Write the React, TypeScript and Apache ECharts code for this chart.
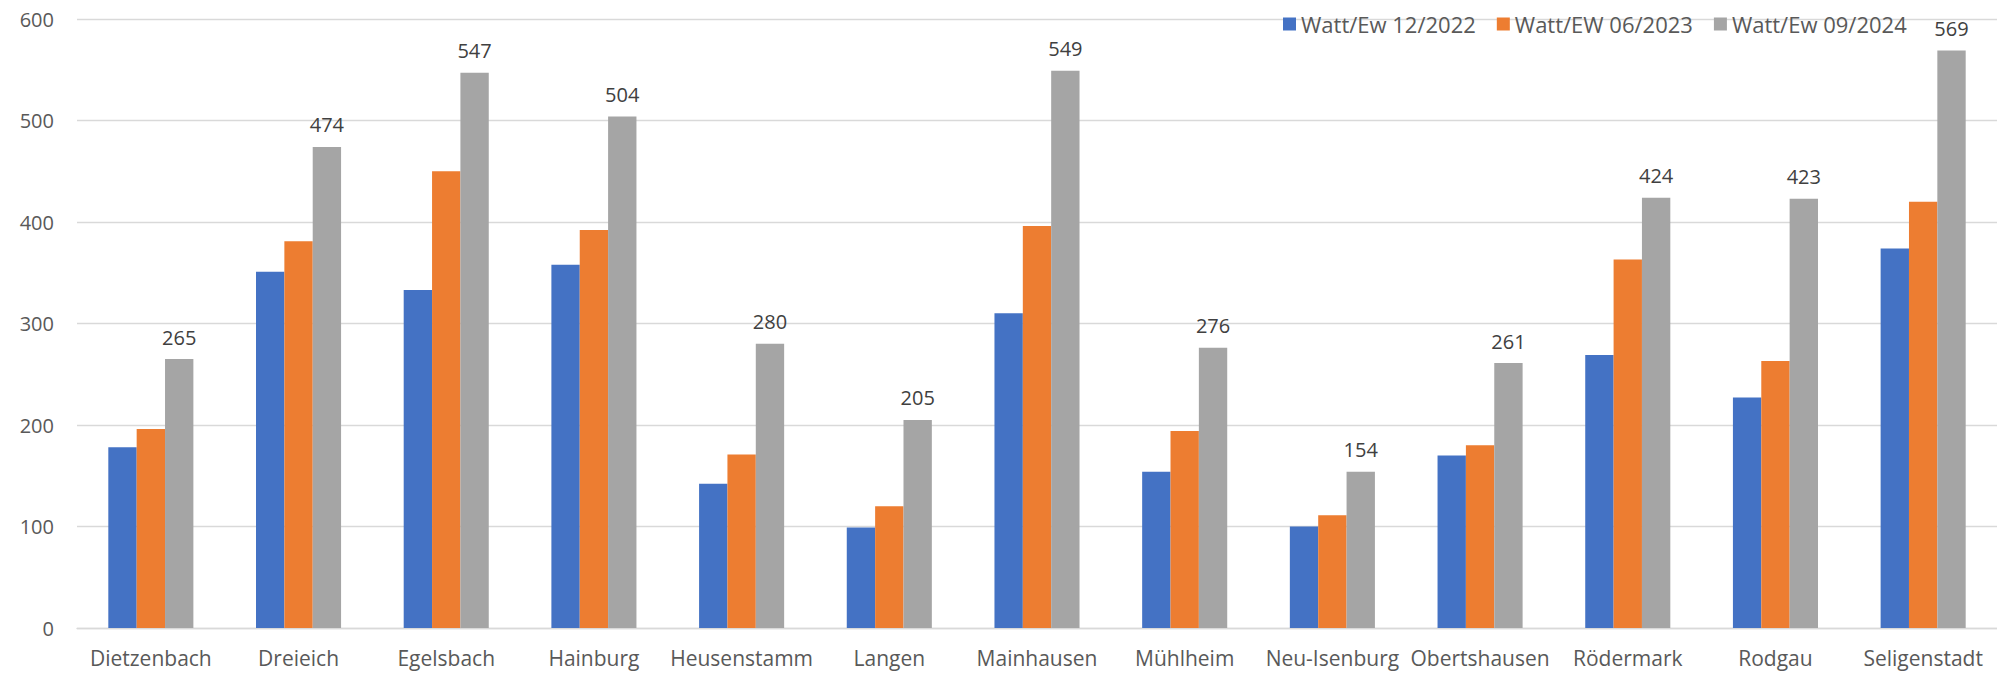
import React, { useEffect, useRef } from "react";
import * as echarts from "echarts";

const categories = [
  "Dietzenbach", "Dreieich", "Egelsbach", "Hainburg", "Heusenstamm", "Langen",
  "Mainhausen", "Mühlheim", "Neu-Isenburg", "Obertshausen", "Rödermark", "Rodgau", "Seligenstadt",
];
const seriesNames = ["Watt/Ew 12/2022", "Watt/EW 06/2023", "Watt/Ew 09/2024"];
const values2022 = [178, 351, 333, 358, 142, 99, 310, 154, 100, 170, 269, 227, 374];
const values2023 = [196, 381, 450, 392, 171, 120, 396, 194, 111, 180, 363, 263, 420];
const values2024 = [265, 474, 547, 504, 280, 205, 549, 276, 154, 261, 424, 423, 569];
const yTicks = { min: 0, max: 600, interval: 100 };
const colors = ["#4472C4", "#ED7D31", "#A5A5A5"];

const FONT = "'Open Sans', sans-serif";

export default function App() {
  const ref = useRef<HTMLDivElement>(null);
  useEffect(() => {
    if (!ref.current) return;
    const chart = echarts.init(ref.current, null, { renderer: "svg" });
    const all = [values2022, values2023, values2024];
    chart.setOption({
      animation: false,
      backgroundColor: "#ffffff",
      textStyle: { fontFamily: FONT },
      legend: {
        left: 1278,
        top: 8,
        itemWidth: 13,
        itemHeight: 13,
        itemGap: 21,
        icon: "rect",
        textStyle: { fontFamily: FONT, fontSize: 22, color: "#595959", padding: [0, 0, 0, 0] },
        data: seriesNames,
      },
      grid: { left: 77, right: 0, top: 19, bottom: 47, containLabel: false },
      xAxis: {
        type: "category",
        data: categories,
        axisTick: { show: false },
        axisLine: { lineStyle: { color: "#d9d9d9", width: 1.3 } },
        axisLabel: { fontFamily: FONT, fontSize: 21, color: "#595959", margin: 19, interval: 0 },
      },
      yAxis: {
        type: "value",
        min: yTicks.min,
        max: yTicks.max,
        interval: yTicks.interval,
        axisLine: { show: false },
        axisTick: { show: false },
        splitLine: { lineStyle: { color: "#d9d9d9", width: 1.3 } },
        axisLabel: { fontFamily: FONT, fontSize: 20, color: "#595959", margin: 23 },
      },
      series: all.map((d, i) => ({
        name: seriesNames[i],
        type: "bar",
        data: d,
        barGap: "0%",
        barCategoryGap: "42.4%",
        itemStyle: { color: colors[i] },
        label: i === 2
          ? { show: true, position: "top", distance: 12, fontFamily: FONT, fontSize: 20, color: "#404040" }
          : { show: false },
      })),
    });
    return () => chart.dispose();
  }, []);
  return (
    <div
      ref={ref}
      style={{ position: "fixed", left: 0, top: 0, width: 1997, height: 675, background: "#fff" }}
    />
  );
}
